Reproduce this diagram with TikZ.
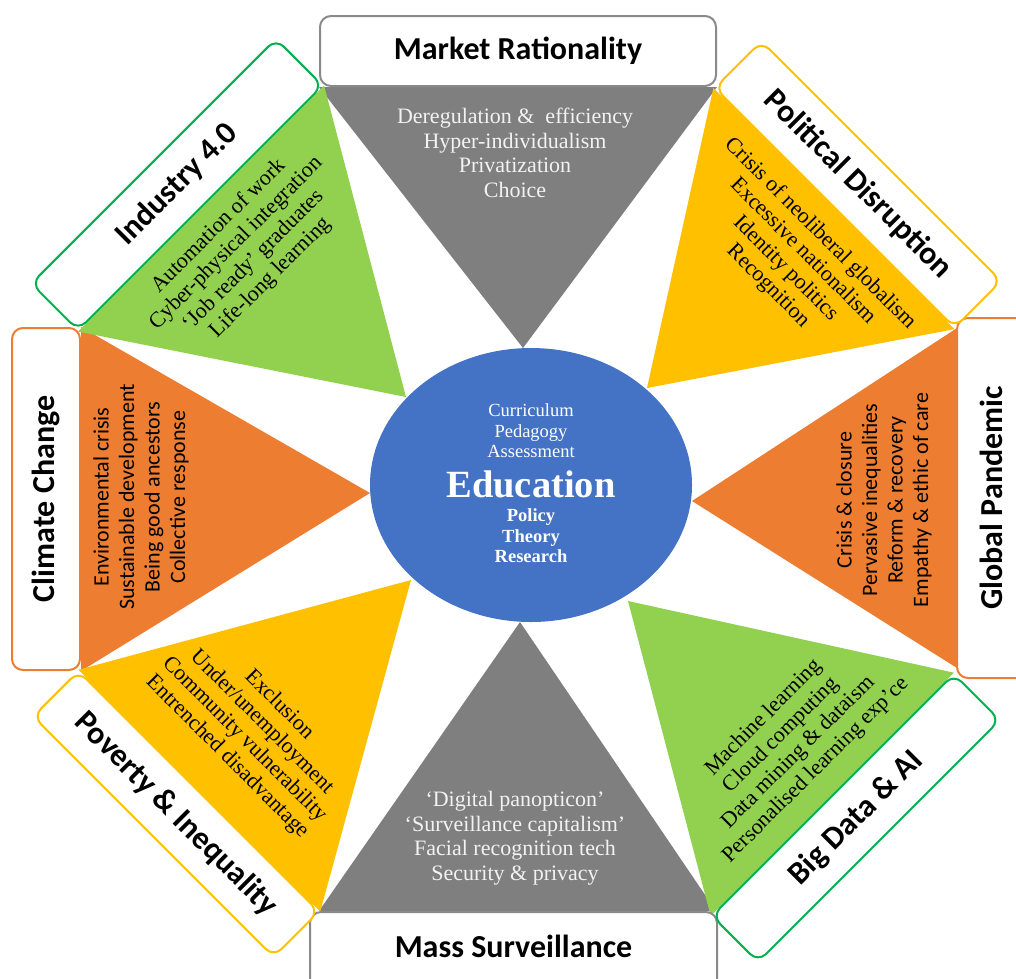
\documentclass[tikz,border=0pt]{standalone}
\usepackage{fontspec}
\setmainfont{Liberation Serif}
\newfontfamily\titlefont{Carlito}
\newfontfamily\sansbodyfont{Carlito}
\usetikzlibrary{shapes.geometric}
\pgfdeclarelayer{background}
\pgfsetlayers{background,main}
\definecolor{cgray}{HTML}{7F7F7F}
\definecolor{cgreen}{HTML}{92D050}
\definecolor{corange}{HTML}{ED7D31}
\definecolor{cyellow}{HTML}{FFC000}
\definecolor{cblue}{HTML}{4472C4}
\definecolor{dgreen}{HTML}{00B050}
\definecolor{boxgray}{HTML}{8A8A8A}
\definecolor{ltext}{HTML}{F2F2F2}
\begin{document}
\begin{tikzpicture}[x=1pt,y=-1pt,
  tbox/.style={draw, fill=white, rounded corners=11pt, line width=2pt, inner sep=0pt,
    font=\titlefont\bfseries\fontsize{32}{36}\selectfont, text=black},
  ttext/.style={inner sep=0pt, font=\titlefont\bfseries\fontsize{32}{36}\selectfont, text=black},
  serifbody/.style={align=center, inner sep=0pt, font=\fontsize{22}{24.5}\selectfont, text=black},
  sansbody/.style={align=center, inner sep=0pt, font=\sansbodyfont\fontsize{22}{25.5}\selectfont, text=black},
  edutext/.style={align=center, inner sep=0pt, text=white}
]
\useasboundingbox (0,0) rectangle (1016,978);
\begin{scope}
\clip (0,0) rectangle (1016,978);
% boxes
\node[tbox, draw=boxgray, minimum width=396pt, minimum height=70pt] (mr) at (518,51) {Market Rationality};
\node[tbox, draw=boxgray, minimum width=407pt, minimum height=90pt] (msbox) at (513.5,957) {};
\node[ttext] (ms) at (513.5,946) {Mass Surveillance};
\node[tbox, draw=corange, rotate=90, minimum width=342pt, minimum height=68pt] (cc) at (46,499) {Climate Change};
\node[tbox, draw=corange, minimum width=90pt, minimum height=360pt] (gpbox) at (1002,498) {};
\node[ttext, rotate=90] (gp) at (991,498) {Global Pandemic};
\node[tbox, draw=dgreen, rotate=45, minimum width=346pt, minimum height=66pt] (ind) at (177,184.5) {Industry 4.0};
\node[tbox, draw=cyellow, rotate=-45, minimum width=339pt, minimum height=66pt] (pd) at (858,184.5) {Political Disruption};
\node[tbox, draw=cyellow, rotate=-45, minimum width=340pt, minimum height=64pt] (pi) at (176,814) {Poverty \& Inequality};
\node[tbox, draw=dgreen, rotate=45, minimum width=342pt, minimum height=65pt] (bd) at (856,818) {Big Data \& AI};
% apexes
\coordinate (mrA) at (523,348);
\coordinate (msA) at (520,622);
\coordinate (ccA) at (370,493);
\coordinate (gpA) at (692,501);
\coordinate (indA) at (406,397);
\coordinate (pdA) at (647,388);
\coordinate (piA) at (411,580);
\coordinate (bdA) at (628,601);
\coordinate (gp1) at (957,328);
\coordinate (gp2) at (957,668);
\begin{pgfonlayer}{background}
\fill[cgray] (mr.south west) -- (mr.south east) -- (mrA) -- cycle;
\fill[cgray] ([xshift=10pt]msbox.north west) -- ([xshift=-2pt]msbox.north east) -- (msA) -- cycle;
\fill[corange] (cc.south west) -- (cc.south east) -- (ccA) -- cycle;
\fill[corange] (gp1) -- (gp2) -- (gpA) -- cycle;
\fill[cgreen] (ind.south west) -- (ind.south east) -- (indA) -- cycle;
\fill[cyellow] (pd.south west) -- (pd.south east) -- (pdA) -- cycle;
\fill[cyellow] (pi.north west) -- (pi.north east) -- (piA) -- cycle;
\fill[cgreen] (bd.north west) -- (bd.north east) -- (bdA) -- cycle;
\end{pgfonlayer}
% centre
\node[ellipse, fill=cblue, minimum width=322pt, minimum height=274pt, inner sep=0pt] (edu) at (531,485) {};
\node[edutext, font=\fontsize{18.5}{20.5}\selectfont] (eduT) at (531,431) {Curriculum\\Pedagogy\\Assessment};
\node[edutext, font=\bfseries\fontsize{38.5}{40}\selectfont] (eduM) at (531,484) {Education};
\node[edutext, font=\bfseries\fontsize{18.5}{20.5}\selectfont] (eduB) at (531,536) {Policy\\Theory\\Research};
% body texts
\node[serifbody, text=ltext] (mrT) at (515,153) {Deregulation \&\ \ efficiency\\Hyper-individualism\\Privatization\\Choice};
\node[serifbody, text=ltext] (msT) at (515,838) {‘Digital panopticon’\\‘Surveillance capitalism’\\Facial recognition tech\\Security \& privacy};
\node[sansbody, rotate=90] (ccT) at (141,497) {Environmental crisis\\Sustainable development\\Being good ancestors\\Collective response};
\node[sansbody, rotate=90] (gpT) at (884,500) {Crisis \& closure\\Pervasive inequalities\\Reform \& recovery\\Empathy \& ethic of care};
\node[serifbody, rotate=45] (indT) at (245,252) {Automation of work\\Cyber-physical integration\\‘Job ready’ graduates\\Life-long learning};
\node[serifbody, rotate=-45] (pdT) at (794,260) {Crisis of neoliberal globalism\\Excessive nationalism\\Identity politics\\Recognition};
\node[serifbody, rotate=-45] (piT) at (253,731) {Exclusion\\Under/unemployment\\Community vulnerability\\Entrenched disadvantage};
\node[serifbody, rotate=45] (bdT) at (790,744) {Machine learning\\Cloud computing\\Data mining \& dataism\\Personalised learning exp’ce};
\end{scope}
\end{tikzpicture}
\end{document}
